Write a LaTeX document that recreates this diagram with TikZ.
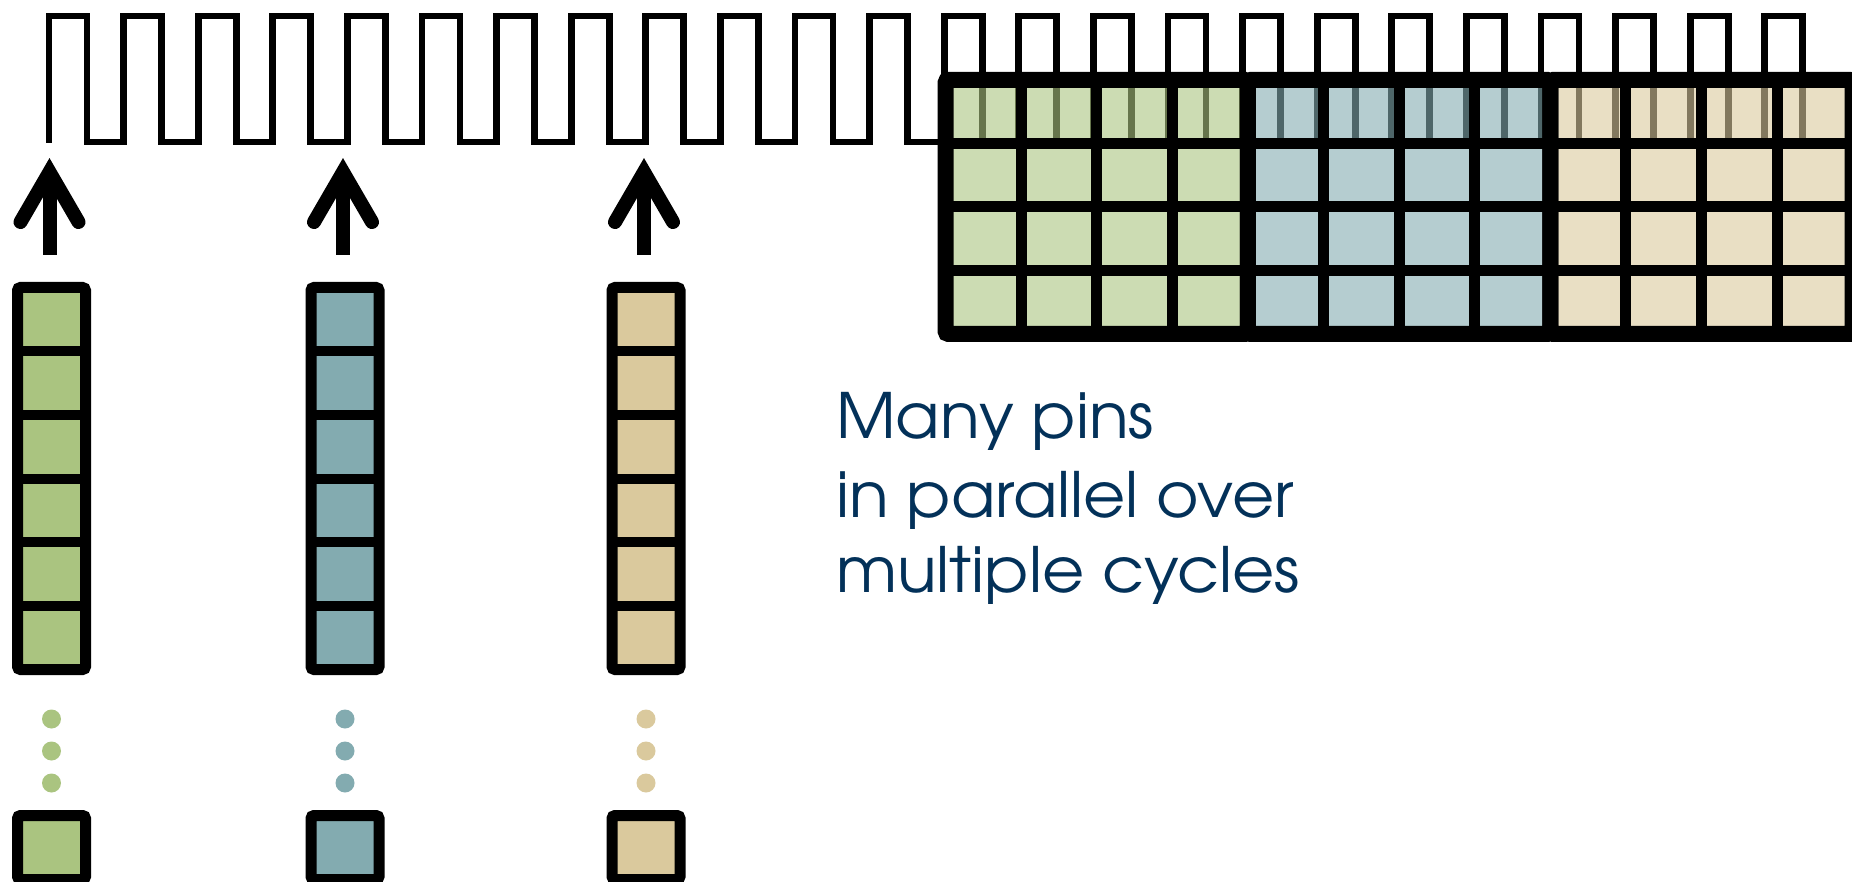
\documentclass[tikz,border=0pt]{standalone}
\usepackage{fontspec}
\setmainfont[FakeStretch=1.04]{TeX Gyre Adventor}
\usetikzlibrary{calc}
\definecolor{cgreen}{RGB}{170,196,128}
\definecolor{cblue}{RGB}{131,171,176}
\definecolor{ctan}{RGB}{218,201,157}
\definecolor{navy}{RGB}{3,49,89}
\tikzset{
  clockline/.style={line width=6.8pt, line join=miter},
  colbox/.style={draw=black, line width=11pt, rounded corners=3pt, minimum width=68pt, minimum height=382pt, inner sep=0pt, outer sep=0pt, fill=#1},
  onebox/.style={draw=black, line width=11pt, rounded corners=3pt, minimum width=68pt, minimum height=64pt, inner sep=0pt, outer sep=0pt, fill=#1},
  sepline/.style={line width=10pt},
  dotmark/.style={fill=#1, draw=none},
  shaft/.style={line width=14pt},
  barb/.style={line width=14pt, line cap=round, line join=miter},
  gfill/.style={fill=#1, fill opacity=0.6, draw=none},
  gline/.style={line width=11pt},
  gframe/.style={line width=16pt, rounded corners=3pt},
  label/.style={text=navy, font=\fontsize{62.5}{77}\selectfont, inner sep=0pt, anchor=base west}
}
\begin{document}
\begin{tikzpicture}[x=1pt,y=-1pt]
\useasboundingbox (0,0) rectangle (1852,882);
\clip (0,0) rectangle (1852,882);
% clock signal
\draw[clockline] (49,143) -- (49,16)
  \foreach \k in {0,...,22} { -- ({87+74.6*\k},16) -- ({87+74.6*\k},142) -- ({123.6+74.6*\k},142) -- ({123.6+74.6*\k},16) }
  -- (1802.8,16) -- (1802.8,142) -- (1870,142);
% grid of many pins over multiple cycles
\foreach \g/\col in {0/cgreen,1/cblue,2/ctan} {
  \fill[gfill=\col] ({945.5+302.4*\g},80) rectangle ++(302.4,254);
}
\foreach \k in {1,2,3,5,6,7,9,10,11} {
  \draw[gline] ({945.5+75.6*\k},80) -- ({945.5+75.6*\k},334);
}
\foreach \r in {1,2,3} {
  \draw[gline] (945.5,{80+63.5*\r}) -- (1870,{80+63.5*\r});
}
\foreach \g in {0,1,2} {
  \draw[gframe] ({945.5+302.4*\g},80) rectangle ++(302.4,254);
}
% columns of pins
\foreach \n/\x/\col in {1/51.5/cgreen,2/345/cblue,3/646/ctan} {
  \node[colbox=\col] (col\n) at (\x,478.5) {};
  \foreach \i in {1,...,5} {
    \draw[sepline] ($(col\n.north west)+(0,{63.67*\i})$) -- ($(col\n.north east)+(0,{63.67*\i})$);
  }
  \foreach \y in {719,751,783} {
    \fill[dotmark=\col] (\x,\y) circle (9.5);
  }
  \node[onebox=\col] (bot\n) at (\x,847.5) {};
  \coordinate (s\n) at ($(col\n.north)+(-2,-32.5)$);
  \coordinate (t\n) at ($(col\n.north)+(-2,-115.5)$);
  \draw[shaft] (s\n) -- ($(t\n)+(0,6)$);
  \draw[barb] ($(t\n)+(-29,50)$) -- (t\n) -- ($(t\n)+(29,50)$);
}
% label
\node[label] (txt1) at (836,438) {Many pins};
\node[label] (txt2) at (836,517) {in parallel over};
\node[label] (txt3) at (836,592) {multiple cycles};
\end{tikzpicture}
\end{document}
